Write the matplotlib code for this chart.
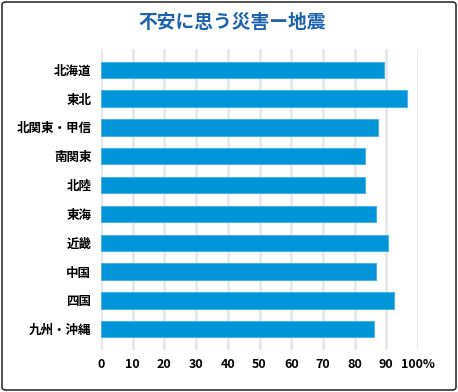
import matplotlib
matplotlib.use("Agg")
import matplotlib.pyplot as plt
from matplotlib.patches import FancyBboxPatch

plt.rcParams['font.family'] = ['Noto Sans CJK JP', 'DejaVu Sans']

regions = ["北海道", "東北", "北関東・甲信", "南関東", "北陸", "東海", "近畿", "中国", "四国", "九州・沖縄"]
values = [89.2, 96.4, 87.5, 83.2, 83.2, 86.6, 90.4, 86.6, 92.3, 86.0]
xticks = [0, 10, 20, 30, 40, 50, 60, 70, 80, 90, 100]
xticklabels = ["0", "10", "20", "30", "40", "50", "60", "70", "80", "90", "100%"]
title = "不安に思う災害ー地震"

W, H = 458, 392
fig = plt.figure(figsize=(W / 100, H / 100), dpi=100)
ax = fig.add_axes([101 / W, 1 - 350 / H, (418 - 101) / W, (350 - 49) / H])

y = list(range(len(regions)))
ax.barh(y, values, height=0.57, color="#0094d8", edgecolor="#4db3e6", linewidth=0.8, zorder=3)
ax.set_ylim(len(regions) - 0.28, -0.72)
ax.set_xlim(0, 100)
ax.set_xticks(xticks)
ax.set_xticklabels(xticklabels, fontsize=9, fontweight="bold")
ax.set_yticks(y)
ax.set_yticklabels(regions, fontsize=9, fontweight="bold")
ax.tick_params(axis="both", length=0)
ax.tick_params(axis="y", pad=7)
ax.tick_params(axis="x", pad=6)
ax.grid(axis="x", color="#e8e8e8", linewidth=2, zorder=0)
for s in ax.spines.values():
    s.set_visible(False)

fig.text(232 / W, 1 - 23 / H, title, ha="center", va="center", fontsize=13.5,
         fontweight="bold", color="#1d62ad")

border = FancyBboxPatch((2 / W, 2 / H), (W - 4) / W, (H - 4) / H,
                        boxstyle="round,pad=0,rounding_size=0.008",
                        transform=fig.transFigure, fill=False,
                        edgecolor="#333333", linewidth=1.2)
fig.patches.append(border)

fig.savefig("out.png", dpi=100)
